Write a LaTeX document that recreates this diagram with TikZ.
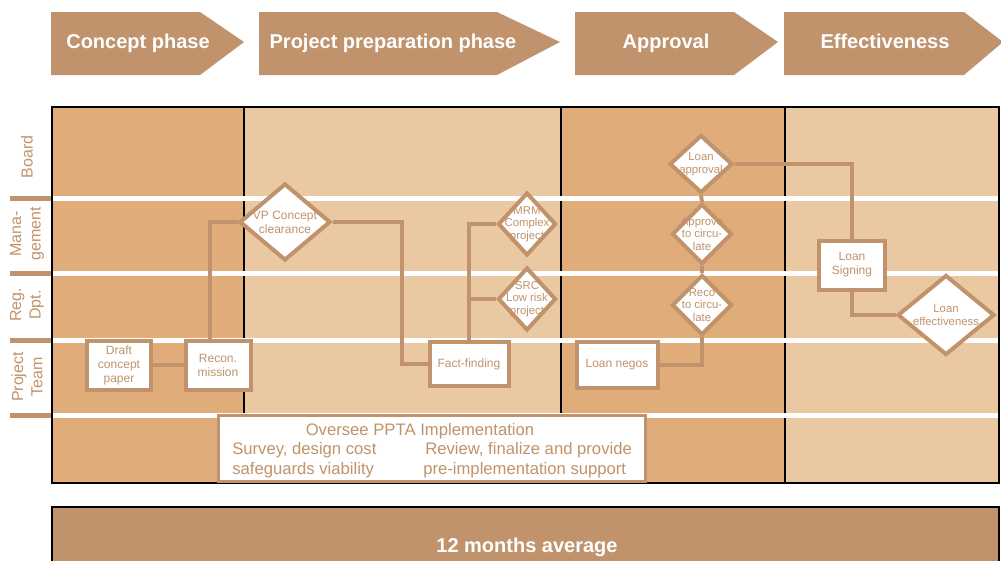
\documentclass[tikz,border=0pt]{standalone}
\usepackage{fontspec}
\setmainfont{Liberation Sans}
\usetikzlibrary{shapes.geometric}
\definecolor{phasebrown}{RGB}{192,147,108}
\definecolor{darklane}{RGB}{224,172,122}
\definecolor{lightlane}{RGB}{234,200,162}
\begin{document}
\begin{tikzpicture}[x=0.75pt,y=-0.75pt,
  phase/.style={text=white,font=\fontsize{15}{18}\selectfont\bfseries},
  lane/.style={text=phasebrown,rotate=90,align=center,font=\fontsize{12}{14.5}\selectfont},
  task/.style={draw=phasebrown,line width=3pt,fill=white,text=phasebrown,align=center,font=\fontsize{9}{10.5}\selectfont},
  decision/.style={diamond,draw=phasebrown,line width=3pt,fill=white},
  dtext/.style={text=phasebrown,align=center,font=\fontsize{8.5}{9.5}\selectfont},
  flow/.style={draw=phasebrown,line width=3pt},
  ppta/.style={text=phasebrown,font=\fontsize{12.5}{15}\selectfont}]
\tikzstyle{every node}+=[inner sep=0pt]
\useasboundingbox (0,0) rectangle (1001,561);
\fill [phasebrown] (51,12) -- (200,12) -- (244,42) -- (200,75) -- (51,75) -- cycle;
\fill [phasebrown] (259,12) -- (497,12) -- (560,42) -- (497,75) -- (259,75) -- cycle;
\fill [phasebrown] (575,12) -- (734,12) -- (778,42) -- (734,75) -- (575,75) -- cycle;
\fill [phasebrown] (784,12) -- (964,12) -- (1003,42) -- (964,75) -- (784,75) -- cycle;
\node [phase,anchor=base] (concept) at (138,48) {Concept phase};
\node [phase,anchor=base] (prep) at (393,48) {Project preparation phase};
\node [phase,anchor=base] (approval) at (666,48) {Approval};
\node [phase,anchor=base] (effect) at (885,48) {Effectiveness};
\fill [darklane] (52,107) rectangle (244,483);
\fill [lightlane] (244,107) rectangle (561,483);
\fill [darklane] (561,107) rectangle (785,483);
\fill [lightlane] (785,107) rectangle (999,483);
\foreach \x in {244,561,785}
  \draw [line width=1.5pt] (\x,107) -- (\x,483);
\foreach \y in {198,273,340,415} {
  \draw [white,line width=3.75pt] (52,\y) -- (999,\y);
  \draw [phasebrown,line width=3.75pt] (10,\y) -- (52,\y);
}
\draw [line width=1.5pt] (52,107) rectangle (999,483);
\node [lane] (board) at (27,157) {Board};
\node [lane] (mgmt) at (27,234) {Mana-\\gement};
\node [lane] (regdpt) at (27,305) {Reg.\\Dpt.};
\node [lane] (team) at (27,377) {Project\\Team};
\node [task,minimum width=48pt,minimum height=36.75pt] (draft) at (119,365) {Draft\\concept\\paper};
\node [task,minimum width=48.75pt,minimum height=36.75pt] (recon) at (218,365) {Recon.\\mission};
\node [task,minimum width=59.25pt,minimum height=33pt] (fact) at (469,364) {Fact-finding};
\node [task,minimum width=60.75pt,minimum height=34.5pt] (negos) at (617,365) {Loan negos};
\node [task,minimum width=49.5pt,minimum height=36.75pt] (signing) at (852,265) {Loan\\Signing};
\node [decision,minimum width=68.25pt,minimum height=57.75pt,
  label={[dtext,font=\fontsize{9}{10.5}\selectfont]center:VP Concept\\clearance}] (vp) at (285,222) {};
\node [decision,minimum width=43.5pt,minimum height=47.25pt,
  label={[dtext]center:MRM\\Complex\\project}] (mrm) at (527,224) {};
\node [decision,minimum width=43.5pt,minimum height=47.25pt,
  label={[dtext]center:SRC\\Low risk\\project}] (src) at (527,299) {};
\node [decision,minimum width=47.25pt,minimum height=43.5pt,
  label={[dtext]center:Loan\\approval}] (lappr) at (701,164) {};
\node [decision,minimum width=45pt,minimum height=45pt,
  label={[dtext]center:Approve\\to circu-\\late}] (approve) at (702,234) {};
\node [decision,minimum width=45pt,minimum height=45pt,
  label={[dtext]center:Reco\\to circu-\\late}] (reco) at (702,305) {};
\node [decision,minimum width=72.75pt,minimum height=60pt,
  label={[dtext]center:Loan\\effectiveness}] (leff) at (946,315) {};
\draw [flow] (draft.east) -- (recon.west);
\draw [flow] ([xshift=-6pt]recon.north) |- (vp.west);
\draw [flow] (vp.east) -| (402,300) |- (fact.west);
\draw [flow] (fact.north) |- (mrm.west);
\draw [flow] (fact.north) |- (src.west);
\draw [flow] (negos.east) -| (reco.south);
\draw [flow] (reco.north) -- (approve.south);
\draw [flow] (approve.north) -- (lappr.south);
\draw [flow] (lappr.east) -| (signing.north);
\draw [flow] (signing.south) |- (leff.west);
\node [draw=phasebrown,line width=2.25pt,fill=white,minimum width=320.25pt,minimum height=49.5pt] (pptabox) at (432,448.5) {};
\node [ppta,anchor=base] (oversee) at (420,435) {Oversee PPTA Implementation};
\node [ppta,anchor=base west] (survey) at (232,454) {Survey, design cost};
\node [ppta,anchor=base west] (safeguards) at (232,474) {safeguards viability};
\node [ppta,anchor=base west] (review) at (425,454) {Review, finalize and provide};
\node [ppta,anchor=base west] (preimpl) at (423,474) {pre-implementation support};
\fill [phasebrown] (52,507) rectangle (999,561);
\draw [line width=1.5pt] (52,561) -- (52,507) -- (999,507) -- (999,561);
\node [phase,anchor=base] (months) at (527,552) {12 months average};
\end{tikzpicture}
\end{document}
